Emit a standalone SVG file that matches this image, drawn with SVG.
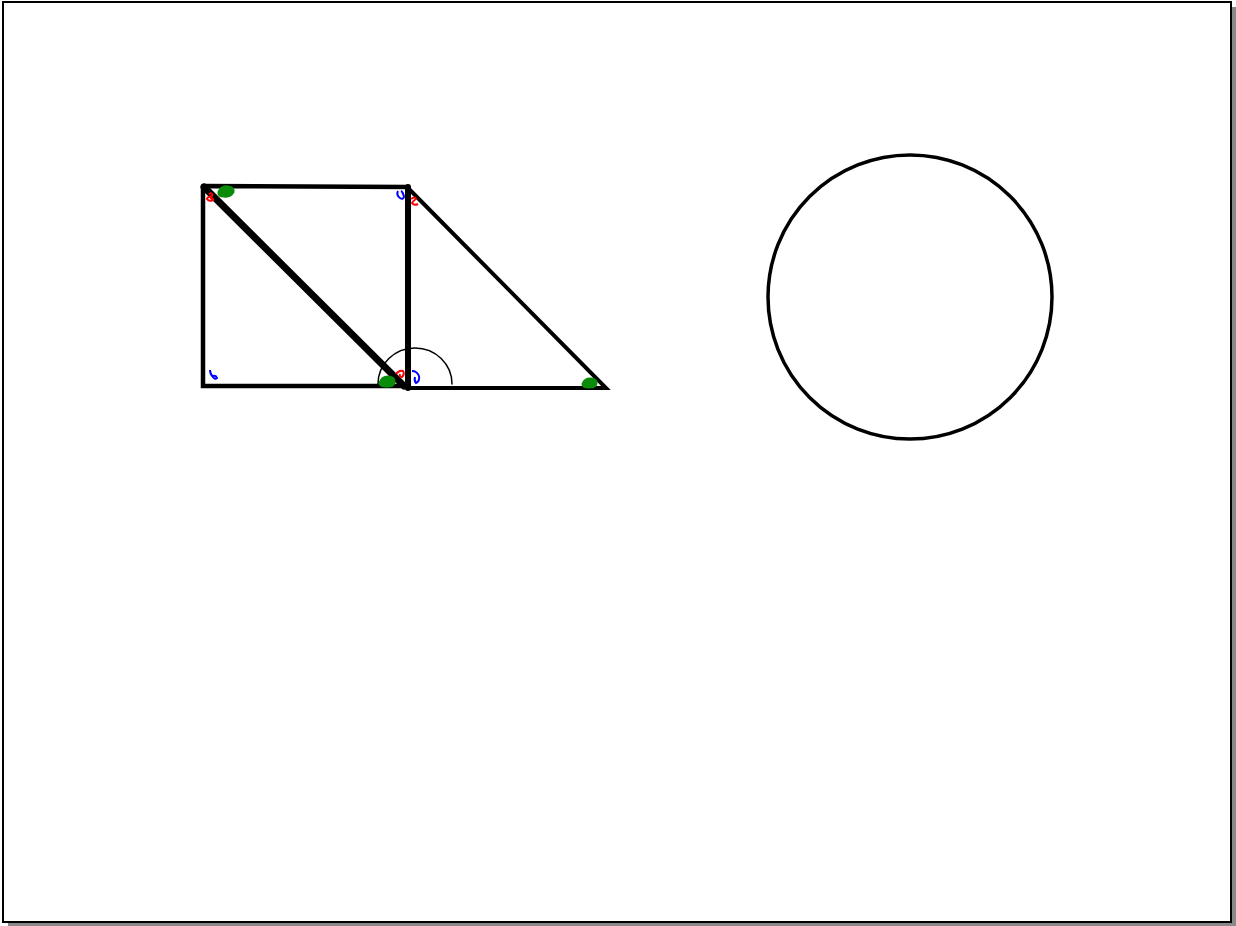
<svg xmlns="http://www.w3.org/2000/svg" width="1236" height="926" viewBox="0 0 1236 926">
<style>
.ln{stroke:#000;fill:none;stroke-linecap:round}
.g{fill:#0a8c0a;stroke:#0a8c0a;stroke-width:3}
.r{fill:none;stroke:#f00;stroke-width:2}
.b{fill:none;stroke:#00f;stroke-width:2}
</style>
<rect x="8" y="7" width="1228" height="919" fill="#888"/>
<rect x="3" y="2" width="1228" height="920" fill="#fff" stroke="#000" stroke-width="2"/>
<g id="square">
<path class="ln" stroke-width="4.5" d="M203,186 L408,187 M203,186 L203,386 L405,386"/>
</g>
<g id="diagonal">
<line class="ln" stroke-width="7" x1="204" y1="187" x2="404" y2="386"/>
</g>
<g id="vertical">
<line class="ln" stroke-width="6" x1="408" y1="187" x2="408" y2="388"/>
</g>
<g id="triangle">
<path class="ln" stroke-width="4" d="M408,188 L606,388 L408,388"/>
</g>
<g id="arc">
<path class="ln" stroke-width="1.5" d="M378,384 A37,36 0 0 1 452,384"/>
</g>
<g id="circle">
<circle cx="910" cy="297" r="142" fill="none" stroke="#000" stroke-width="3.5"/>
</g>
<g id="marks">
<path class="g" d="M219,192 q3,-6 9,-5 q6,1 5,5 q-3,5 -9,4 q-6,0 -5,-4z"/>
<path class="r" d="M209,194 q4,-2 3,2 q-5,1 -5,3 q2,3 6,1 q1,-2 -3,-2"/>
<path class="b" d="M398,191 q-2,4 2,7 q3,2 4,-1 q-1,-5 -3,-6"/>
<path class="r" d="M411,199 q4,-3 5,0 q-3,2 -4,4 q2,3 6,1"/>
<path class="b" d="M210,370 q0,4 3,7 q2,3 4,1 q-1,-3 -4,-2"/>
<path class="g" d="M380,383 q2,-6 8,-6 q6,0 6,5 q0,4 -7,4 q-7,0 -7,-3z"/>
<path class="r" d="M396,374 q3,-4 7,-3 q2,3 -1,6 q-3,0 -2,-3"/>
<path class="b" d="M412,371 q5,0 7,5 q1,5 -3,7 q-2,-2 -1,-6"/>
<path class="g" d="M583,384 q2,-5 7,-5 q6,0 6,4 q0,4 -7,4 q-6,0 -6,-3z"/>
</g>
</svg>
